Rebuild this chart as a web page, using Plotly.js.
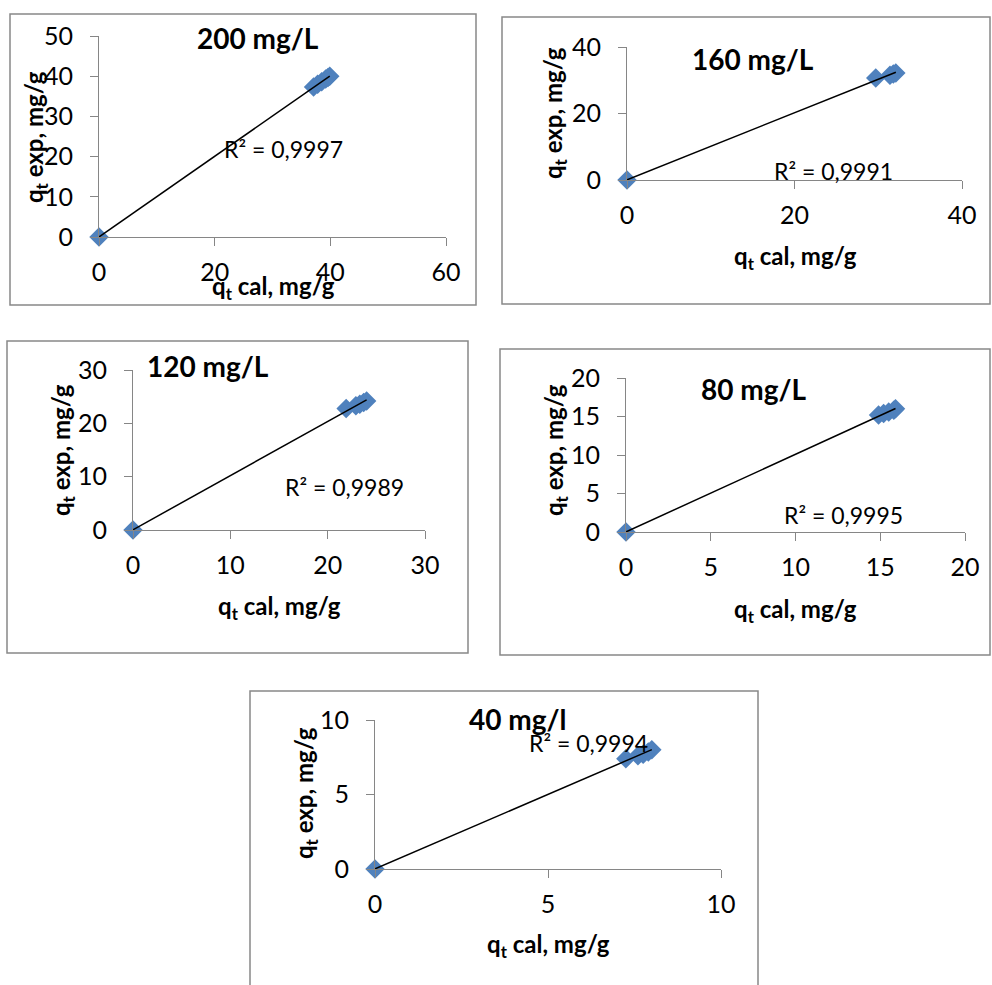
<!DOCTYPE html>
<html>
<head>
<meta charset="utf-8">
<script src="https://cdn.plot.ly/plotly-3.0.1.min.js"></script>
<style>html,body{margin:0;padding:0;background:#fff;}#chart{width:992px;height:985px;}</style>
</head>
<body>
<div id="chart"></div>
<script>
// ---- data ----
const panelTitles = ["200 mg/L", "160 mg/L", "120 mg/L", "80 mg/L", "40 mg/l"];
const r2Labels = ["0,9997", "0,9991", "0,9989", "0,9995", "0,9994"];

const cal200 = [0, 37.1, 37.8, 38.5, 39.2, 39.6, 39.9];
const exp200 = [0, 37.3, 38.0, 38.6, 39.3, 39.7, 40.0];

const cal160 = [0, 29.7, 31.4, 31.8, 32.1];
const exp160 = [0, 30.7, 31.5, 31.9, 32.2];

const cal120 = [0, 21.9, 22.9, 23.3, 23.7, 24.0];
const exp120 = [0, 22.8, 23.3, 23.6, 23.9, 24.2];

const cal80 = [0, 14.9, 15.2, 15.5, 15.8, 15.9];
const exp80 = [0, 15.2, 15.4, 15.6, 15.8, 16.0];

const cal40 = [0, 7.25, 7.6, 7.75, 7.9, 8.0];
const exp40 = [0, 7.4, 7.6, 7.7, 7.85, 8.0];

const xRanges = [[0, 60], [0, 40], [0, 30], [0, 20], [0, 10]];
const yRanges = [[0, 50], [0, 40], [0, 30], [0, 20], [0, 10]];
const xSteps = [20, 20, 10, 5, 5];
const ySteps = [10, 20, 10, 5, 5];

// ---- layout geometry (pixels) ----
const W = 992, H = 985;
const px = v => v / W;
const py = v => 1 - v / H;

const panels = [
  {cal: cal200, exp: exp200, plot: [99, 446, 36, 237], box: [10, 14, 476, 305],
   title: [258, 38], r2: [283, 149], xt: [273, 287], yt: [35, 137]},
  {cal: cal160, exp: exp160, plot: [627, 962, 47, 180], box: [502, 17, 990, 304],
   title: [753, 59], r2: [833, 171], xt: [795, 257], yt: [555, 113]},
  {cal: cal120, exp: exp120, plot: [133, 425, 370, 530], box: [7, 341, 468, 653],
   title: [208, 366], r2: [344, 487], xt: [279, 607], yt: [62, 450]},
  {cal: cal80, exp: exp80, plot: [626, 965, 378, 532], box: [500, 349, 990, 655],
   title: [754, 389], r2: [843, 515], xt: [795, 610], yt: [555, 450]},
  {cal: cal40, exp: exp40, plot: [375, 721, 720, 869], box: [250, 691, 758, 995],
   title: [518, 719], r2: [588, 743], xt: [548, 945], yt: [305, 793]}
];

const FONT = "Lato, 'Open Sans', sans-serif";
const axisColor = "#868686";
const markerColor = "#4F81BD";

function linfit(xs, ys) {
  const n = xs.length;
  let sx = 0, sy = 0, sxx = 0, sxy = 0;
  for (let i = 0; i < n; i++) { sx += xs[i]; sy += ys[i]; sxx += xs[i]*xs[i]; sxy += xs[i]*ys[i]; }
  const b = (n*sxy - sx*sy) / (n*sxx - sx*sx);
  const a = (sy - b*sx) / n;
  return [a, b];
}

const traces = [];
const layout = {
  width: W, height: H,
  margin: {l: 0, r: 0, t: 0, b: 0},
  paper_bgcolor: "#fff", plot_bgcolor: "rgba(0,0,0,0)",
  showlegend: false,
  font: {family: FONT, color: "#000"},
  shapes: [], annotations: []
};

panels.forEach((p, i) => {
  const k = i === 0 ? "" : String(i + 1);
  const xa = "x" + k, ya = "y" + k;
  layout["xaxis" + k] = {
    domain: [px(p.plot[0]), px(p.plot[1])], anchor: ya,
    range: xRanges[i], autorange: false, dtick: xSteps[i], tick0: 0,
    showline: true, linecolor: axisColor, linewidth: 1,
    ticks: "outside", ticklen: 8, tickcolor: axisColor, tickwidth: 1,
    showgrid: false, zeroline: false,
    tickfont: {family: FONT, size: 25, color: "#000"},
    ticklabelstandoff: 5, fixedrange: true
  };
  layout["yaxis" + k] = {
    domain: [py(p.plot[3]), py(p.plot[2])], anchor: xa,
    range: yRanges[i], autorange: false, dtick: ySteps[i], tick0: 0,
    showline: true, linecolor: axisColor, linewidth: 1,
    ticks: "outside", ticklen: 8, tickcolor: axisColor, tickwidth: 1,
    showgrid: false, zeroline: false,
    tickfont: {family: FONT, size: 25, color: "#000"},
    ticklabelstandoff: 12, fixedrange: true
  };

  traces.push({
    type: "scatter", mode: "markers", x: p.cal, y: p.exp, xaxis: xa, yaxis: ya,
    marker: {symbol: "diamond", size: 15, color: markerColor},
    cliponaxis: false, hoverinfo: "skip"
  });
  const [a, b] = linfit(p.cal, p.exp);
  const xmin = Math.min(...p.cal), xmax = Math.max(...p.cal);
  traces.push({
    type: "scatter", mode: "lines", x: [xmin, xmax], y: [a + b*xmin, a + b*xmax],
    xaxis: xa, yaxis: ya, line: {color: "#000", width: 1.5},
    cliponaxis: false, hoverinfo: "skip"
  });

  layout.shapes.push({
    type: "rect", xref: "paper", yref: "paper",
    x0: px(p.box[0]), x1: px(p.box[2]), y0: py(p.box[3]), y1: py(p.box[1]),
    line: {color: "#888888", width: 1.5}, fillcolor: "rgba(0,0,0,0)", layer: "below"
  });

  const ann = (pos, text, size, bold, angle) => ({
    xref: "paper", yref: "paper", x: px(pos[0]), y: py(pos[1]),
    xanchor: "center", yanchor: "middle", showarrow: false,
    text: bold ? "<b>" + text + "</b>" : text, textangle: angle || 0,
    font: {family: FONT, size: size, color: "#000"}
  });
  layout.annotations.push(ann(p.title, panelTitles[i], 28, true));
  layout.annotations.push(ann(p.r2, "R² = " + r2Labels[i], 23, false));
  layout.annotations.push(ann(p.xt, "q<sub>t</sub> cal, mg/g", 24, true));
  layout.annotations.push(ann(p.yt, "q<sub>t</sub> exp, mg/g", 24, true, -90));
});

Plotly.newPlot("chart", traces, layout, {staticPlot: true, displayModeBar: false});
</script>
</body>
</html>
